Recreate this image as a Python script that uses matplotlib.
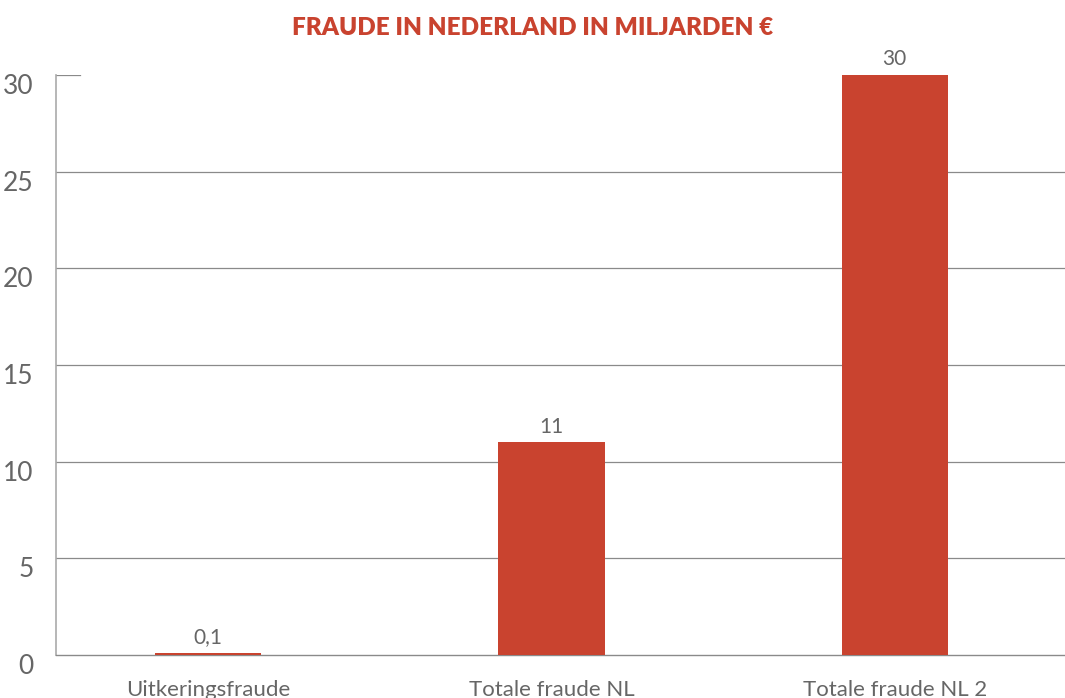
import numpy as np
import matplotlib.pyplot as plt
import matplotlib.transforms as mtransforms

categories = ["Uitkeringsfraude", "Totale fraude NL", "Totale fraude NL 2"]
values = [0.1, 11, 30]
value_labels = ["0,1", "11", "30"]
yticks = [0, 5, 10, 15, 20, 25, 30]

red = "#C9432F"
grey_txt = "#666666"

plt.rcParams['font.family'] = ['Lato', 'DejaVu Sans']

fig = plt.figure(figsize=(10.65, 6.98), dpi=100)
ax = fig.add_axes([0.0526, 0.0616, 0.9474, 0.831])

x = np.arange(len(categories))
ax.bar(x, values, width=0.31, color=red, zorder=3)

# gridlines (top one is only a short stub in the original)
for t in yticks[1:-1]:
    ax.axhline(t, color="#8a8a8a", lw=0.9, zorder=1)
ax.axhline(yticks[-1], xmin=0, xmax=0.024, color="#8a8a8a", lw=0.9, zorder=1)

for xi, v, lab in zip(x, values, value_labels):
    ax.text(xi, v + 0.3, lab, ha="center", va="bottom", fontsize=15,
            color=grey_txt)

ax.set_xlim(-0.443, 2.496)
ax.set_ylim(0, 30)
ax.set_xticks(x)
ax.set_xticklabels(categories, fontsize=16, color=grey_txt)
ax.set_yticks(yticks)
ax.set_yticklabels([str(t) for t in yticks], fontsize=19, color=grey_txt)
ax.tick_params(axis="both", length=0)
ax.tick_params(axis="x", pad=18)
ax.tick_params(axis="y", pad=16)

# y labels sit a bit below their gridline
offset = mtransforms.ScaledTranslation(0, -9 / 100, fig.dpi_scale_trans)
for lbl in ax.get_yticklabels():
    lbl.set_transform(lbl.get_transform() + offset)

for s in ["top", "right"]:
    ax.spines[s].set_visible(False)
ax.spines["left"].set_color("#aaaaaa")
ax.spines["bottom"].set_color("#8a8a8a")
ax.spines["left"].set_linewidth(1.2)
ax.spines["bottom"].set_linewidth(1.0)

fig.text(0.5, 0.96, "FRAUDE IN NEDERLAND IN MILJARDEN €", ha="center",
         va="center", fontsize=17.5, fontweight="heavy", color=red)

fig.savefig("out.png", dpi=100)
